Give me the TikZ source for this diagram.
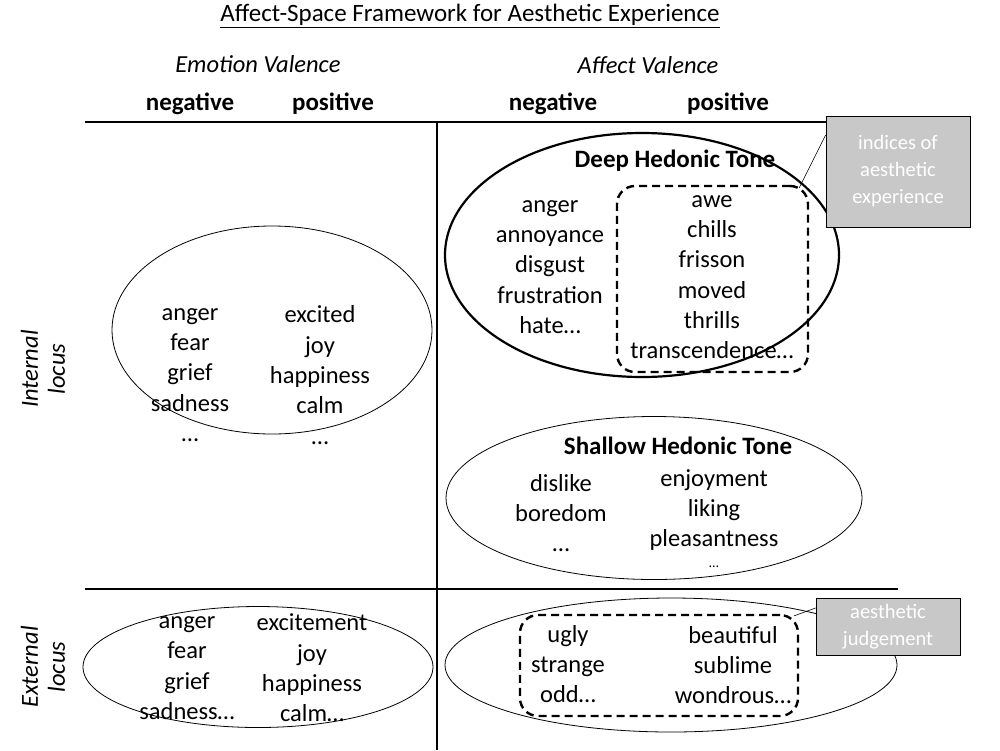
\documentclass[tikz,border=0pt]{standalone}
\usepackage{fontspec}
\setmainfont{Carlito}
\usetikzlibrary{shapes.geometric,positioning}
\definecolor{notegray}{RGB}{200,200,200}
\tikzset{
  word/.style={align=center, inner sep=0pt, font=\fontsize{24.5}{30.3}\selectfont},
  head/.style={inner sep=0pt, font=\fontsize{25}{30}\selectfont\bfseries},
  axis/.style={inner sep=0pt, font=\fontsize{24.5}{30}\selectfont\itshape},
  zone/.style={draw, ellipse, inner sep=0pt, line width=0.8pt},
  index/.style={draw, dashed, dash pattern=on 8pt off 5pt, line width=2.4pt, rounded corners=18pt, inner sep=0pt},
  note/.style={draw, fill=notegray, text=white, align=center, inner sep=0pt, line width=0.8pt, font=\fontsize{20.5}{27}\selectfont},
  leader/.style={line width=0.6pt}
}
\begin{document}
\begin{tikzpicture}[x=1pt, y=-1pt]
\useasboundingbox (0,0) rectangle (1000,750);

% headings
\node (title) [inner sep=0pt, font=\fontsize{25}{30}\selectfont] at (470,16) {\underline{Affect-Space Framework for Aesthetic Experience}};
\node (emo) [axis] at (258,64) {Emotion Valence};
\node (aff) [axis] at (648,65) {Affect Valence};
\node (n1) [head] at (190,104) {negative};
\node (p1) [head] at (333,104) {positive};
\node (n2) [head] at (553,104) {negative};
\node (p2) [head] at (728,104) {positive};
\node (int) [axis, align=center, rotate=90, font=\fontsize{24.5}{27}\selectfont\itshape] at (43,369) {Internal\\locus};
\node (ext) [axis, align=center, rotate=90, font=\fontsize{24.5}{27}\selectfont\itshape] at (43,667) {External\\locus};

% grid
\coordinate (tl) at (85,122);
\coordinate (tr) at (898,122);
\coordinate (ml) at (85,589);
\coordinate (mr) at (898,589);
\coordinate (vt) at (437,122);
\coordinate (vb) at (437,750);
\draw [line width=2.6pt] (tl) -- (tr);
\draw [line width=1.8pt] (ml) -- (mr);
\draw [line width=1.8pt] (vt) -- (vb);

% emotion, internal
\node (emoint) [zone, minimum width=320pt, minimum height=208pt] at (272,330) {};
\node (emoint1) [word] at (190,375) {anger\\fear\\grief\\sadness\\\dots};
\node (emoint2) [word] at (320,375) {excited\\joy\\happiness\\calm\\\dots};

% deep hedonic tone
\node (deep) [zone, line width=2.2pt, minimum width=394pt, minimum height=244pt] at (642,255) {};
\node (deeptitle) [head] at (675,161) {Deep Hedonic Tone};
\node (deep1) [word] at (550,267) {anger\\annoyance\\disgust\\frustration\\hate\dots};
\node (deepbox) [index, minimum width=191pt, minimum height=186pt] at (712.5,279) {};
\node (deep2) [word] at (712,277) {awe\\chills\\frisson\\moved\\thrills\\transcendence\dots};

% shallow hedonic tone
\node (shallow) [zone, minimum width=416pt, minimum height=163pt] at (654,498) {};
\node (shallowtitle) [head] at (678,446) {Shallow Hedonic Tone};
\node (shallow1) [word] at (561,513) {dislike\\boredom\\\dots};
\node (shallow2) [word] at (714,510) {enjoyment\\liking\\pleasantness};
\node (shallow3) [inner sep=0pt, font=\fontsize{14}{16}\selectfont] at (714,567) {\dots};

% emotion, external
\node (emoext) [zone, minimum width=350pt, minimum height=121pt] at (258,667) {};
\node (emoext1) [word] at (187,668) {anger\\fear\\grief\\sadness\dots};
\node (emoext2) [word] at (312,668) {excitement\\joy\\happiness\\calm\dots};

% affect, external
\node (affext) [zone, minimum width=452pt, minimum height=134pt] at (671,665) {};
\node (extbox) [index, minimum width=278pt, minimum height=101pt] at (659,665.5) {};
\node (affext1) [word] at (568,664) {ugly\\strange\\odd\dots};
\node (affext2) [word] at (733,665) {beautiful\\sublime\\wondrous\dots};

% notes
\node (note1) [note, minimum width=144pt, minimum height=111pt] at (898,171.5) {indices of\\aesthetic\\experience};
\node (note2) [note, minimum width=144pt, minimum height=57pt] at (888,626.5) {aesthetic\\judgement};
\draw [leader] (note1.west |- 0,135) -- ([xshift=-10pt,yshift=-3pt]deepbox.north east);
\draw [leader] (note2.west |- 0,608) -- ([xshift=-5pt,yshift=-2pt]extbox.north east);

\end{tikzpicture}
\end{document}
